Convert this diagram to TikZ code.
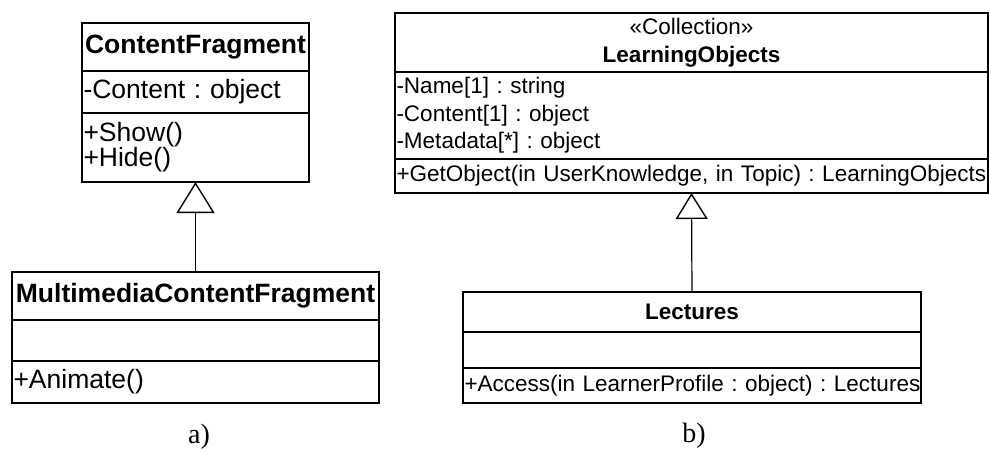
\documentclass[tikz,border=0pt]{standalone}
\usepackage{fontspec}
\setmainfont{Liberation Sans}
\newfontfamily\labelserif{Liberation Serif}
\usetikzlibrary{arrows.meta}
\frenchspacing
\begin{document}
\frenchspacing
\begin{tikzpicture}[x=1pt,y=-1pt,
  comp/.style={draw, line width=1.6pt, rectangle, outer sep=0pt, inner xsep=1.5pt, inner ysep=0pt, anchor=north west},
  big/.style={font=\fontsize{26.5}{25}\selectfont\frenchspacing},
  bigb/.style={font=\fontsize{26.5}{25}\selectfont\bfseries},
  small/.style={font=\fontsize{22.5}{27.5}\selectfont\frenchspacing},
  smallt/.style={font=\fontsize{22.5}{28}\selectfont},
  gen/.style 2 args={line width=1.2pt, -{Triangle[open, length=#1, width=#2, line width=1.4pt]}},
  lbl/.style={font=\labelserif\fontsize{28}{30}\selectfont}
]
\useasboundingbox (0,0) rectangle (989,451);

% a) ContentFragment
\node[comp, bigb, text width=224pt, align=center, minimum height=48pt] (cf-t) at (82,23) {ContentFragment};
\node[comp, big, text width=224pt, align=left, minimum height=42pt] (cf-a) at (82,71) {\mbox{-Content : object}};
\node[comp, big, text width=224pt, align=left, minimum height=69pt] (cf-o) at (82,113) {+Show()\\+Hide()};

% a) MultimediaContentFragment
\node[comp, bigb, text width=364pt, align=center, minimum height=48pt] (mcf-t) at (12,272) {MultimediaContentFragment};
\node[comp, big, text width=364pt, align=left, minimum height=41pt] (mcf-a) at (12,320) {};
\node[comp, big, text width=364pt, align=left, minimum height=42pt] (mcf-o) at (12,361) {+Animate()};

\draw[gen={31pt}{38pt}] (mcf-t.north) -- (cf-o.south);

% b) LearningObjects
\node[comp, smallt, text width=590pt, align=center, minimum height=59pt] (lo-t) at (395,13) {«Collection»\\\textbf{LearningObjects}};
\node[comp, small, text width=590pt, align=left, minimum height=87pt] (lo-a) at (395,72) {\mbox{-Name[1] : string}\\\mbox{-Content[1] : object}\\\mbox{-Metadata[*] : object}};
\node[comp, small, text width=590pt, align=left, minimum height=34pt] (lo-o) at (395,159) {\mbox{+GetObject(in UserKnowledge, in Topic) : LearningObjects}};

% b) Lectures
\node[comp, small, text width=455pt, align=center, minimum height=40pt, font=\fontsize{22.5}{27.5}\selectfont\bfseries] (lec-t) at (463,292) {Lectures};
\node[comp, small, text width=455pt, align=left, minimum height=36pt] (lec-a) at (463,332) {};
\node[comp, small, text width=455pt, align=left, minimum height=35pt] (lec-o) at (463,368) {\mbox{+Access(in LearnerProfile : object) : Lectures}};

\draw[gen={26pt}{32pt}] (lec-t.north) -- (lo-o.south);

% labels
\node[lbl] (la) at (199,437) {a)};
\node[lbl] (lb) at (694,436) {b)};
\end{tikzpicture}
\end{document}
